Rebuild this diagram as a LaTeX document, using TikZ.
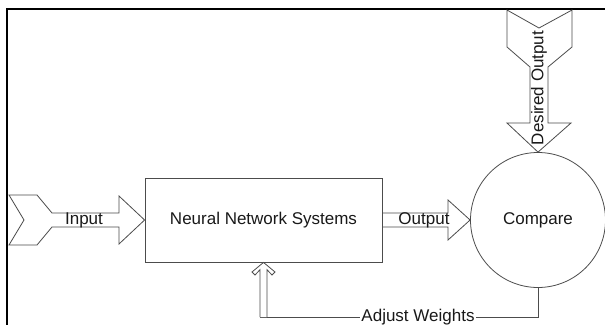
\documentclass[tikz,border=0pt]{standalone}
\usepackage{fontspec}
\setmainfont{Liberation Sans}
\usetikzlibrary{calc}
\begin{document}
\begin{tikzpicture}[x=1pt,y=-1pt,
  lbl/.style={font=\fontsize{17}{20}\selectfont, text=black!90, inner sep=0.5pt},
  shapeline/.style={draw=black!70, line width=0.8pt, line join=miter},
  blockbox/.style={shapeline, minimum width=237pt, minimum height=84pt, lbl},
  cmpcircle/.style={shapeline, circle, minimum size=135pt, inner sep=0pt, lbl},
  frameline/.style={draw=black, line width=2pt}
]
\useasboundingbox (0,0) rectangle (605,325);
\fill[white] (0,0) rectangle (605,325);
% frame
\draw[frameline] (605,9) -- (7,9) -- (7,325);
% nodes
\node[blockbox] (nn) at (263.5,220) {Neural Network Systems};
\node[cmpcircle] (cmp) at (538,220) {Compare};
% input arrow
\draw[shapeline] (9,195) -- (37,195) -- (52,213) -- (119,213) -- (119,196) -- (nn.west)
  -- (119,244) -- (119,227) -- (52,227) -- (37,245) -- (9,245) -- (24,220) -- cycle;
\node[lbl] (inlbl) at (84,220) {Input};
% output arrow
\draw[shapeline] (nn.east |- 0,213) -- (448,213) -- (448,200) -- (cmp.west)
  -- (448,240) -- (448,227) -- (nn.east |- 0,227);
\node[lbl] (outlbl) at (424,220) {Output};
% desired output arrow
\draw[shapeline] (507,10) -- (539,28) -- (572,10) -- (572,47) -- (548,67) -- (548,123)
  -- (571,123) -- (cmp.north) -- (507,123) -- (530,123) -- (530,67) -- (507,47) -- cycle;
\node[lbl, rotate=90] (deslbl) at (539,88) {Desired Output};
% feedback
\coordinate (fbcorner) at (260,317);
\draw[shapeline] (cmp.south) |- (fbcorner);
\node[lbl, fill=white, inner sep=1pt] (adj) at (418,317) {Adjust Weights};
\draw[shapeline, fill=white] (260,317) -- (260,269.7) -- (255,275) -- (252,272) -- (nn.south)
  -- (275,272) -- (272,275) -- (267,269.7) -- (267,317);
\end{tikzpicture}
\end{document}
